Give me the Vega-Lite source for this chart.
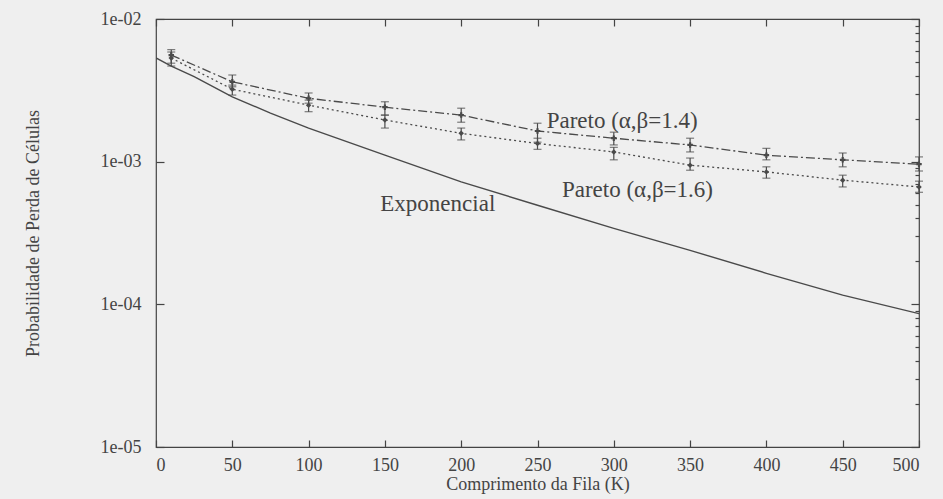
{
  "$schema": "https://vega.github.io/schema/vega-lite/v6.json",
  "width": 763,
  "height": 428,
  "autosize": {"type": "none"},
  "padding": {"left": 156, "top": 19, "right": 24, "bottom": 52},
  "background": "#efefef",
  "config": {
    "view": {"stroke": "#444", "strokeWidth": 1.2},
    "axis": {"labelFont": "Liberation Serif", "titleFont": "Liberation Serif", "labelColor": "#444", "titleColor": "#444", "titleFontWeight": "normal", "grid": false}
  },
  "datasets": {
    "exp": [
      {"x": 0, "y": 0.00533},
      {"x": 10, "y": 0.00468},
      {"x": 25, "y": 0.00394},
      {"x": 50, "y": 0.00285},
      {"x": 75, "y": 0.00219},
      {"x": 100, "y": 0.00172},
      {"x": 150, "y": 0.00111},
      {"x": 200, "y": 0.000721},
      {"x": 250, "y": 0.000495},
      {"x": 300, "y": 0.000341},
      {"x": 350, "y": 0.000239},
      {"x": 400, "y": 0.000165},
      {"x": 450, "y": 0.000116},
      {"x": 500, "y": 0.000086}
    ],
    "pts": [
      {"series": "1.4", "x": 10, "y": 0.00559, "lo": 0.0049, "hi": 0.0061},
      {"series": "1.4", "x": 50, "y": 0.00363, "lo": 0.00335, "hi": 0.00405},
      {"series": "1.4", "x": 100, "y": 0.00278, "lo": 0.00257, "hi": 0.00303},
      {"series": "1.4", "x": 150, "y": 0.00241, "lo": 0.00212, "hi": 0.00263},
      {"series": "1.4", "x": 200, "y": 0.00212, "lo": 0.00189, "hi": 0.00237},
      {"series": "1.4", "x": 250, "y": 0.00164, "lo": 0.00137, "hi": 0.00186},
      {"series": "1.4", "x": 300, "y": 0.00146, "lo": 0.00131, "hi": 0.00161},
      {"series": "1.4", "x": 350, "y": 0.00131, "lo": 0.00117, "hi": 0.00146},
      {"series": "1.4", "x": 400, "y": 0.00111, "lo": 0.00103, "hi": 0.00124},
      {"series": "1.4", "x": 450, "y": 0.00103, "lo": 0.00092, "hi": 0.00115},
      {"series": "1.4", "x": 500, "y": 0.00096, "lo": 0.00086, "hi": 0.00108},
      {"series": "1.6", "x": 10, "y": 0.00532, "lo": 0.00468, "hi": 0.00587},
      {"series": "1.6", "x": 50, "y": 0.00322, "lo": 0.00293, "hi": 0.00344},
      {"series": "1.6", "x": 100, "y": 0.00249, "lo": 0.00224, "hi": 0.0027},
      {"series": "1.6", "x": 150, "y": 0.00196, "lo": 0.00172, "hi": 0.00212},
      {"series": "1.6", "x": 200, "y": 0.00158, "lo": 0.00142, "hi": 0.00172},
      {"series": "1.6", "x": 250, "y": 0.00134, "lo": 0.00122, "hi": 0.00146},
      {"series": "1.6", "x": 300, "y": 0.00117, "lo": 0.00103, "hi": 0.00126},
      {"series": "1.6", "x": 350, "y": 0.000945, "lo": 0.000871, "hi": 0.00106},
      {"series": "1.6", "x": 400, "y": 0.000848, "lo": 0.000766, "hi": 0.00092},
      {"series": "1.6", "x": 450, "y": 0.000742, "lo": 0.000665, "hi": 0.000804},
      {"series": "1.6", "x": 500, "y": 0.000665, "lo": 0.00061, "hi": 0.00073}
    ],
    "labels": [
      {"x": 256, "y": 0.00192, "text": "Pareto (α,β=1.4)"},
      {"x": 266, "y": 0.00063, "text": "Pareto (α,β=1.6)"},
      {"x": 147, "y": 0.000503, "text": "Exponencial"}
    ]
  },
  "layer": [
    {
      "data": {"name": "exp"},
      "mark": {"type": "line", "color": "#4a4a4a", "strokeWidth": 1.4, "clip": true},
      "encoding": {
        "x": {"field": "x", "type": "quantitative", "scale": {"domain": [0, 500], "nice": false, "zero": false},
          "axis": {"orient": "bottom", "values": [0, 50, 100, 150, 200, 250, 300, 350, 400, 450, 500], "domain": false, "ticks": true, "tickColor": "#444444", "tickWidth": 1.2, "tickSize": -7, "labelPadding": 16, "labelFontSize": 18, "title": "Comprimento da Fila (K)", "titleFontSize": 18, "titlePadding": 1}},
        "y": {"field": "y", "type": "quantitative", "scale": {"type": "log", "domain": [0.00001, 0.01], "nice": false},
          "axis": {"orient": "left", "values": [0.00001, 0.0001, 0.001, 0.01],
            "labelExpr": "'1e-0' + (-round(log(datum.value)/LN10))",
            "domain": false, "ticks": true, "tickColor": "#444444", "tickWidth": 1.2, "tickSize": -8, "labelPadding": 23, "labelFontSize": 18,
            "title": "Probabilidade de Perda de Células", "titleFontSize": 18, "titlePadding": 58}}
      }
    },
    {
      "data": {"name": "pts"},
      "transform": [{"filter": "datum.series == '1.4'"}],
      "mark": {"type": "line", "color": "#4a4a4a", "strokeWidth": 1.3, "strokeDash": [9, 3, 2, 3]},
      "encoding": {
        "x": {"field": "x", "type": "quantitative",
          "axis": {"orient": "top", "values": [0, 50, 100, 150, 200, 250, 300, 350, 400, 450, 500], "domain": false, "ticks": true, "tickColor": "#444444", "tickWidth": 1.2, "tickSize": -7, "labels": false, "title": null}},
        "y": {"field": "y", "type": "quantitative",
          "axis": {"orient": "right", "values": [0.00001, 0.00002, 0.00003, 0.00004, 0.00005, 0.00006, 0.00007, 0.00008, 0.00009, 0.0001, 0.0002, 0.0003, 0.0004, 0.0005, 0.0006, 0.0007, 0.0008, 0.0009, 0.001, 0.002, 0.003, 0.004, 0.005, 0.006, 0.007, 0.008, 0.009, 0.01],
            "domain": false, "ticks": true, "tickColor": "#444444", "tickWidth": 1.2,
            "tickSize": {"condition": {"test": "abs(log(datum.value)/LN10 - round(log(datum.value)/LN10)) < 0.001", "value": -8}, "value": -4},
            "labels": false, "title": null}}
      }
    },
    {
      "data": {"name": "pts"},
      "transform": [{"filter": "datum.series == '1.6'"}],
      "mark": {"type": "line", "color": "#4a4a4a", "strokeWidth": 1.3, "strokeDash": [2, 3]},
      "encoding": {
        "x": {"field": "x", "type": "quantitative", "axis": null},
        "y": {"field": "y", "type": "quantitative", "axis": null}
      }
    },
    {
      "data": {"name": "pts"},
      "mark": {"type": "rule", "color": "#4a4a4a", "strokeWidth": 1.2},
      "encoding": {
        "x": {"field": "x", "type": "quantitative", "axis": null},
        "y": {"field": "lo", "type": "quantitative", "axis": null},
        "y2": {"field": "hi"}
      }
    },
    {
      "data": {"name": "pts"},
      "mark": {"type": "tick", "orient": "horizontal", "color": "#4a4a4a", "size": 8, "thickness": 1.2},
      "encoding": {
        "x": {"field": "x", "type": "quantitative", "axis": null},
        "y": {"field": "lo", "type": "quantitative", "axis": null}
      }
    },
    {
      "data": {"name": "pts"},
      "mark": {"type": "tick", "orient": "horizontal", "color": "#4a4a4a", "size": 8, "thickness": 1.2},
      "encoding": {
        "x": {"field": "x", "type": "quantitative", "axis": null},
        "y": {"field": "hi", "type": "quantitative", "axis": null}
      }
    },
    {
      "data": {"name": "pts"},
      "mark": {"type": "point", "filled": true, "color": "#4a4a4a", "size": 30, "opacity": 1},
      "encoding": {
        "x": {"field": "x", "type": "quantitative", "axis": null},
        "y": {"field": "y", "type": "quantitative", "axis": null},
        "shape": {"field": "series", "type": "nominal", "scale": {"domain": ["1.4", "1.6"], "range": ["cross", "diamond"]}, "legend": null}
      }
    },
    {
      "data": {"name": "labels"},
      "mark": {"type": "text", "font": "Liberation Serif", "fontSize": 23, "color": "#444", "align": "left", "baseline": "middle"},
      "encoding": {
        "x": {"field": "x", "type": "quantitative", "axis": null},
        "y": {"field": "y", "type": "quantitative", "axis": null},
        "text": {"field": "text"}
      }
    }
  ],
  "resolve": {"axis": {"x": "independent", "y": "independent"}}
}
